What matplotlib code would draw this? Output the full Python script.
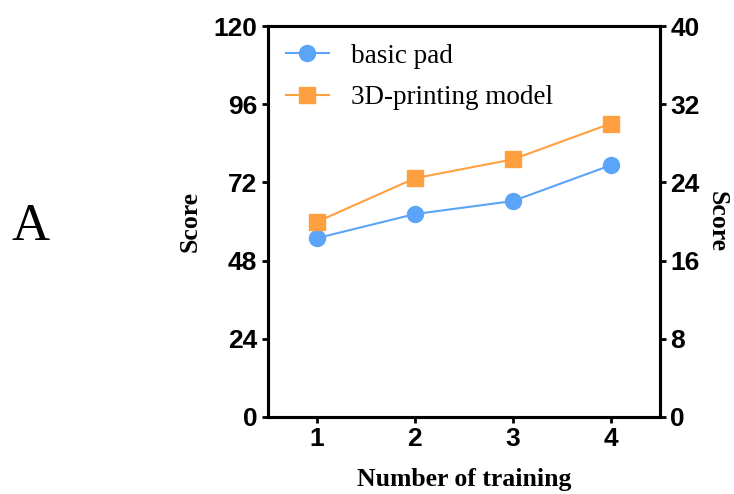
import matplotlib
matplotlib.use("Agg")
import matplotlib.pyplot as plt

# data
trainings = [1, 2, 3, 4]
basic_pad = [54.9, 62.3, 66.3, 77.3]
printed_model = [59.9, 73.3, 79.1, 90.1]
left_ticks = [0, 24, 48, 72, 96, 120]
right_ticks = [0, 8, 16, 24, 32, 40]

blue = "#5aa5f7"
orange = "#ffa040"
serif = "Liberation Serif"
sans = "Liberation Sans"

fig = plt.figure(figsize=(7.34, 4.94), dpi=100)
ax = fig.add_axes([0.365, 0.156, 0.534, 0.791])

ax.plot(trainings, basic_pad, color=blue, marker="o", markersize=11.5, linewidth=1.5, label="basic pad")
ax.plot(trainings, printed_model, color=orange, marker="s", markersize=11.5, linewidth=1.5, label="3D-printing model")

ax.set_xlim(0.5, 4.5)
ax.set_ylim(0, 120)
ax.set_xticks(trainings)
ax.set_yticks(left_ticks)

ax2 = ax.twinx()
ax2.set_ylim(0, 40)
ax2.set_yticks(right_ticks)

for a in (ax, ax2):
    for spine in a.spines.values():
        spine.set_linewidth(2.2)
    a.tick_params(direction="out", length=4.5, width=2, pad=3)
    for lab in a.get_xticklabels() + a.get_yticklabels():
        lab.set_fontfamily(sans)
        lab.set_fontweight("bold")
        lab.set_fontsize(19)

label_font = dict(family=serif, weight="bold", size=18.5)
ax.set_xlabel("Number of training", fontdict=label_font, labelpad=12)
ax.set_ylabel("Score", fontdict=label_font, labelpad=8.5)
ax2.set_ylabel("Score", fontdict=label_font, rotation=-90, labelpad=21)

ax.legend(loc="upper left", frameon=False, prop=dict(family=serif, size=19.5),
          handlelength=1.6, handletextpad=0.8, labelspacing=0.6,
          borderaxespad=0.25)

fig.text(0.041, 0.54, "A", family=serif, fontsize=38, ha="center", va="center")

fig.savefig("out.png", dpi=100)
